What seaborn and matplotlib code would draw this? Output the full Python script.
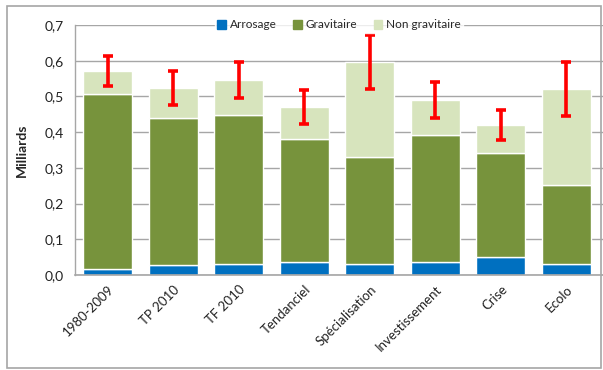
import matplotlib
matplotlib.use("Agg")
import matplotlib.pyplot as plt
import seaborn as sns
import numpy as np
import pandas as pd
from matplotlib.patches import Rectangle, Patch
from matplotlib.ticker import FuncFormatter

categories = ["1980-2009", "TP 2010", "TF 2010", "Tendanciel", "Spécialisation",
              "Investissement", "Crise", "Ecolo"]
arrosage = [0.017, 0.028, 0.031, 0.036, 0.031, 0.036, 0.050, 0.031]
gravitaire = [0.489, 0.412, 0.417, 0.345, 0.299, 0.356, 0.292, 0.221]
non_gravitaire = [0.065, 0.084, 0.098, 0.089, 0.266, 0.098, 0.078, 0.269]
erreur = [0.042, 0.047, 0.050, 0.048, 0.076, 0.050, 0.042, 0.076]

c_arr = "#0070C0"
c_grav = "#77933C"
c_non = "#D7E4BD"

sns.set_style("white")
plt.rcParams["font.family"] = ["Lato", "DejaVu Sans"]

fig = plt.figure(figsize=(6.03, 3.70), dpi=100)
ax = fig.add_axes([75/603, 95/370, 528/603, 250/370])

df = pd.DataFrame({"cat": categories, "arr": arrosage, "grav": gravitaire, "non": non_gravitaire})
b1 = np.array(arrosage)
b2 = b1 + np.array(gravitaire)
tot = b2 + np.array(non_gravitaire)

sns.barplot(data=df, x="cat", y="arr", color=c_arr, saturation=1, width=0.75, ax=ax, zorder=2)
sns.barplot(data=df, x="cat", y="grav", bottom=b1, color=c_grav, saturation=1, width=0.75, ax=ax, zorder=2)
sns.barplot(data=df, x="cat", y="non", bottom=b2, color=c_non, saturation=1, width=0.75, ax=ax, zorder=2)

xpos = np.arange(len(categories))
ax.errorbar(xpos, tot, yerr=erreur, fmt="none", ecolor="#FF0000", elinewidth=2.6,
            capsize=3.5, capthick=2.6, zorder=4)

ax.set_ylim(0, 0.7)
ax.set_xlim(-0.5, len(categories) - 0.5 + 0.06)
ax.set_yticks(np.arange(0, 0.71, 0.1))
ax.yaxis.set_major_formatter(FuncFormatter(lambda v, p: f"{v:.1f}".replace(".", ",")))
ax.grid(axis="y", color="#A6A6A6", linewidth=1, zorder=0)
ax.set_axisbelow(True)
for s in ["top", "right"]:
    ax.spines[s].set_visible(False)
ax.spines["left"].set_color("#A6A6A6")
ax.spines["bottom"].set_color("#A6A6A6")
ax.spines["left"].set_linewidth(1)
ax.spines["bottom"].set_linewidth(1.2)
ax.tick_params(axis="y", which="major", length=4, color="#A6A6A6", labelsize=10, labelcolor="#222222", pad=4)
ax.tick_params(axis="x", length=0, labelsize=9.5, labelcolor="#222222", pad=6)
plt.setp(ax.get_xticklabels(), rotation=45, ha="right", rotation_mode="anchor")
ax.set_xlabel("")
ax.set_ylabel("Milliards", fontsize=10, fontweight="bold", labelpad=12)

handles = [Patch(color=c_arr), Patch(color=c_grav), Patch(color=c_non)]
leg = ax.legend(handles, ["Arrosage", "Gravitaire", "Non gravitaire"], loc="center",
                bbox_to_anchor=(0.5, 1.0), ncol=3, frameon=True, fontsize=8.5,
                handlelength=0.75, handleheight=0.75, handletextpad=0.3, columnspacing=1.4,
                borderpad=0.2, fancybox=False)
leg.get_frame().set_facecolor("white")
leg.get_frame().set_edgecolor("white")
leg.set_zorder(5)

fig.patches.append(Rectangle((7/603, 2/370), 594/603, 362/370, transform=fig.transFigure,
                             fill=False, edgecolor="#A6A6A6", linewidth=1.2))

fig.savefig("out.png", dpi=100)
